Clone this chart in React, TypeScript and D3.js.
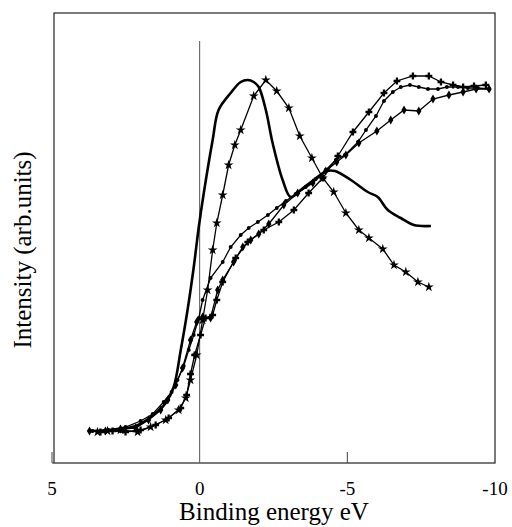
import React from "react";
import * as d3 from "d3";

// Binding energy (eV) and intensity (arb. units)
const thickE = [3.76, 3.02, 2.17, 1.56, 1.15, 0.88, 0.64, 0.41, 0.2, 0.03, -0.14, -0.44, -0.64, -1.05, -1.39, -1.63, -1.83, -2.0, -2.24, -2.47, -2.81, -3.08, -3.42, -3.86, -4.31, -4.58, -5.12, -5.69, -6.03, -6.37, -6.81, -7.25, -7.83];
const thickI = [32, 33, 37, 48, 60, 76, 113, 153, 196, 236, 270, 323, 353, 370, 381, 383, 381, 376, 353, 320, 283, 266, 273, 283, 292, 292, 283, 271, 266, 253, 245, 238, 237];

const starE = [3.46, 3.12, 2.68, 2.1, 1.66, 1.15, 0.71, 0.47, 0.31, 0.1, -0.1, -0.27, -0.44, -0.58, -0.78, -0.98, -1.19, -1.39, -1.83, -2.24, -2.61, -3.02, -3.39, -3.8, -4.17, -4.54, -4.95, -5.39, -5.73, -6.2, -6.58, -6.98, -7.39, -7.76];
const starI = [31, 32, 33, 31, 36, 43, 53, 65, 83, 108, 143, 173, 213, 240, 268, 298, 318, 333, 367, 383, 372, 355, 327, 305, 285, 271, 250, 233, 225, 214, 198, 191, 181, 176];

const crossE = [3.36, 2.95, 2.51, 2.0, 1.49, 1.05, 0.64, 0.44, 0.31, 0.17, -0.03, -0.2, -0.44, -0.58, -0.78, -1.22, -1.63, -2.17, -2.68, -3.19, -3.69, -4.17, -4.68, -5.19, -5.73, -6.24, -6.68, -7.22, -7.76, -8.17, -8.58, -8.92, -9.29, -9.69];
const crossI = [31, 32, 31, 33, 38, 45, 55, 68, 89, 108, 128, 145, 148, 163, 181, 205, 221, 233, 241, 253, 270, 285, 307, 331, 351, 370, 382, 387, 387, 381, 378, 376, 377, 378];

const dotE = [3.63, 3.08, 2.51, 2.0, 1.59, 1.22, 0.95, 0.75, 0.54, 0.37, 0.2, 0.03, -0.1, -0.37, -0.78, -1.05, -1.39, -1.66, -1.97, -2.31, -2.61, -2.92, -3.25, -3.59, -3.93, -4.27, -4.61, -4.92, -5.36, -5.63, -5.97, -6.24, -6.54, -6.81, -7.12, -7.42, -7.73, -8.07, -8.37, -8.75, -9.08, -9.42, -9.8];
const dotI = [32, 33, 36, 42, 49, 61, 71, 83, 97, 113, 128, 145, 163, 185, 201, 216, 228, 235, 241, 248, 255, 262, 269, 276, 284, 293, 303, 308, 321, 333, 347, 362, 371, 376, 378, 376, 374, 374, 376, 376, 375, 375, 374];

const diamondE = [3.73, 3.19, 2.68, 2.17, 1.73, 1.32, 1.08, 0.81, 0.58, 0.31, 0.1, -0.1, -0.37, -0.61, -0.78, -1.15, -1.46, -1.73, -2.0, -2.34, -2.85, -3.32, -3.83, -4.27, -4.64, -4.95, -5.39, -6.0, -6.47, -6.92, -7.42, -7.9, -8.44, -8.92, -9.36, -9.8];
const diamondI = [32, 32, 34, 35, 43, 53, 63, 78, 95, 123, 141, 146, 145, 173, 183, 201, 216, 223, 229, 239, 258, 270, 280, 292, 301, 308, 320, 332, 343, 353, 352, 364, 368, 371, 374, 374];

const xTicks = [5, 0, -5, -10];

const W = 512;
const H = 527;
const left = 54;
const right = 495;
const top = 13;
const bottom = 463;

export default function App() {
  const x = d3.scaleLinear().domain([5, -10]).range([52, 495]);
  const y = d3.scaleLinear().domain([0, 450]).range([463, 13]);

  const toPts = (e: number[], v: number[]) => e.map((d, i) => [x(d), y(v[i])] as [number, number]);

  const lin = d3.line<[number, number]>().curve(d3.curveLinear);
  const smooth = d3.line<[number, number]>().curve(d3.curveCatmullRom.alpha(0.5));

  const thick = toPts(thickE, thickI);
  const stars = toPts(starE, starI);
  const crosses = toPts(crossE, crossI);
  const dots = toPts(dotE, dotI);
  const diamonds = toPts(diamondE, diamondI);

  const starSym = d3.symbol().type(d3.symbolStar).size(30)() as string;
  const crossSym = d3.symbol().type(d3.symbolCross).size(26)() as string;
  const diaSym = d3.symbol().type(d3.symbolDiamond).size(24)() as string;
  const dotSym = d3.symbol().type(d3.symbolCircle).size(12)() as string;

  const serifStyle = { fontFamily: '"Liberation Serif", "DejaVu Serif", serif' };

  return (
    <svg width={W} height={H} style={{ position: "absolute", left: 0, top: 0, background: "#fff" }}>
      <rect x={left} y={top} width={right - left} height={bottom - top} fill="none" stroke="#222" strokeWidth={1.2} />
      <line x1={x(0)} x2={x(0)} y1={41} y2={bottom} stroke="#555" strokeWidth={1} />
      <line x1={x(-5)} x2={x(-5)} y1={452} y2={bottom} stroke="#444" strokeWidth={1} />
      <line x1={x(5)} x2={left} y1={bottom} y2={bottom} stroke="#444" strokeWidth={1} />
      <line x1={x(5)} x2={x(5)} y1={452} y2={bottom} stroke="#444" strokeWidth={1} />

      {/* diamond series */}
      <path d={lin(diamonds) as string} fill="none" stroke="#000" strokeWidth={1.3} />
      {diamonds.map((p, i) => (
        <path key={"dm" + i} d={diaSym} transform={`translate(${p[0]},${p[1]})`} fill="#000" />
      ))}
      {/* dot series */}
      <path d={lin(dots) as string} fill="none" stroke="#000" strokeWidth={1.3} />
      {dots.map((p, i) => (
        <path key={"dt" + i} d={dotSym} transform={`translate(${p[0]},${p[1]})`} fill="#000" />
      ))}
      {/* cross series */}
      <path d={lin(crosses) as string} fill="none" stroke="#000" strokeWidth={1.3} />
      {crosses.map((p, i) => (
        <path key={"cr" + i} d={crossSym} transform={`translate(${p[0]},${p[1]})`} fill="#000" />
      ))}
      {/* star series */}
      <path d={lin(stars) as string} fill="none" stroke="#000" strokeWidth={1.3} />
      {stars.map((p, i) => (
        <path key={"st" + i} d={starSym} transform={`translate(${p[0]},${p[1]})`} fill="#000" />
      ))}
      {/* thick solid series */}
      <path d={smooth(thick) as string} fill="none" stroke="#000" strokeWidth={2.6} strokeLinejoin="round" />

      {xTicks.map((t) => (
        <text key={t} x={x(t)} y={495} textAnchor="middle" style={serifStyle} fontSize={19} fill="#000">
          {t}
        </text>
      ))}
      <text x={274} y={520} textAnchor="middle" style={serifStyle} fontSize={25} fill="#000">
        Binding energy eV
      </text>
      <text
        transform={`translate(31,250) rotate(-90)`}
        textAnchor="middle"
        style={serifStyle}
        fontSize={25}
        fill="#000"
      >
        Intensity (arb.units)
      </text>
    </svg>
  );
}
